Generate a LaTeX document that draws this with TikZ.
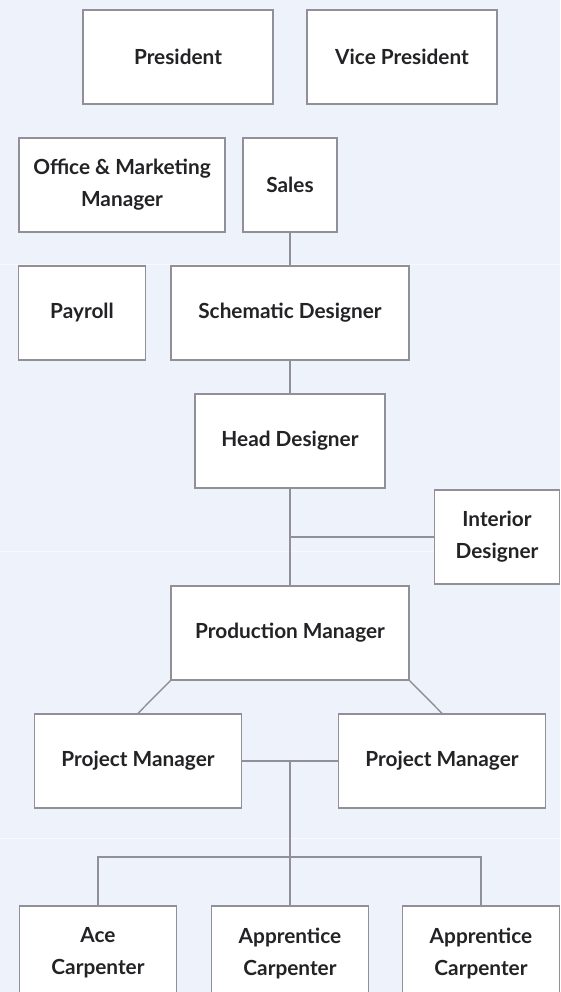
\documentclass[tikz,border=0pt]{standalone}
\usepackage{fontspec}
\setmainfont{Lato}
\usetikzlibrary{positioning}
\definecolor{bgcol}{HTML}{EEF2FA}
\definecolor{bandcol}{HTML}{F7F9FD}
\definecolor{linecol}{HTML}{909096}
\definecolor{txtcol}{HTML}{232326}

\begin{document}
\begin{tikzpicture}[x=1pt,y=-1pt,
    box/.style={draw=linecol,line width=1.4pt,fill=white,minimum height=94pt,
        inner sep=0pt,align=center,text=txtcol,
        font=\bfseries\fontsize{20.8}{32}\selectfont},
    link/.style={draw=linecol,line width=1.4pt}]
    % background
    \fill[bgcol] (0,0) rectangle (560,992);
    \clip (0,0) rectangle (560,992);
    \draw[bandcol,line width=0.8pt] (0,264) -- (560,264);
    \draw[bandcol,line width=0.8pt] (0,551) -- (560,551);
    \draw[bandcol,line width=0.8pt] (0,838) -- (560,838);

\node[box,minimum width=190pt] (pres) at (178,57) {President};
\node[box,minimum width=190pt] (vicepres) at (402,57) {Vice President};

\node[box,minimum width=206pt] (office) at (122,185) {Office \& Marketing\\Manager};
\node[box,minimum width=94pt] (sales) at (290,185) {Sales};

\node[box,minimum width=127pt] (payroll) at (82,313) {Payroll};
\node[box,minimum width=238pt] (schem) at (290,313) {Schematic Designer};

\node[box,minimum width=190pt] (head) at (290,441) {Head Designer};
\node[box,minimum width=125pt] (interior) at (497,537) {Interior\\Designer};

\node[box,minimum width=238pt] (prod) at (290,633) {Production Manager};
\node[box,minimum width=207pt] (projA) at (138,761) {Project Manager};
\node[box,minimum width=207pt] (projB) at (442,761) {Project Manager};

\node[box,minimum width=157pt] (ace) at (98,953) {Ace\\Carpenter};
\node[box,minimum width=157pt] (apprA) at (290,953) {Apprentice\\Carpenter};
\node[box,minimum width=157pt] (apprB) at (481,953) {Apprentice\\Carpenter};

    % connectors
\draw[link] (sales) -- (schem);
\draw[link] (schem) -- (head);
\draw[link] (head) -- (prod);
\coordinate (jointI) at (head.south |- interior.west);
\draw[link] (jointI) -- (interior.west);
\draw[link] (prod.south west) -- (projA.north);
\draw[link] (prod.south east) -- (projB.north);
\draw[link] (projA) -- (projB);
\coordinate (jointP) at (apprA.north |- projA.east);
\coordinate (jointC) at (290,857);
\draw[link] (jointP) -- (apprA.north);
\draw[link] (ace.north) |- (jointC) -| (apprB.north);
\end{tikzpicture}
\end{document}
